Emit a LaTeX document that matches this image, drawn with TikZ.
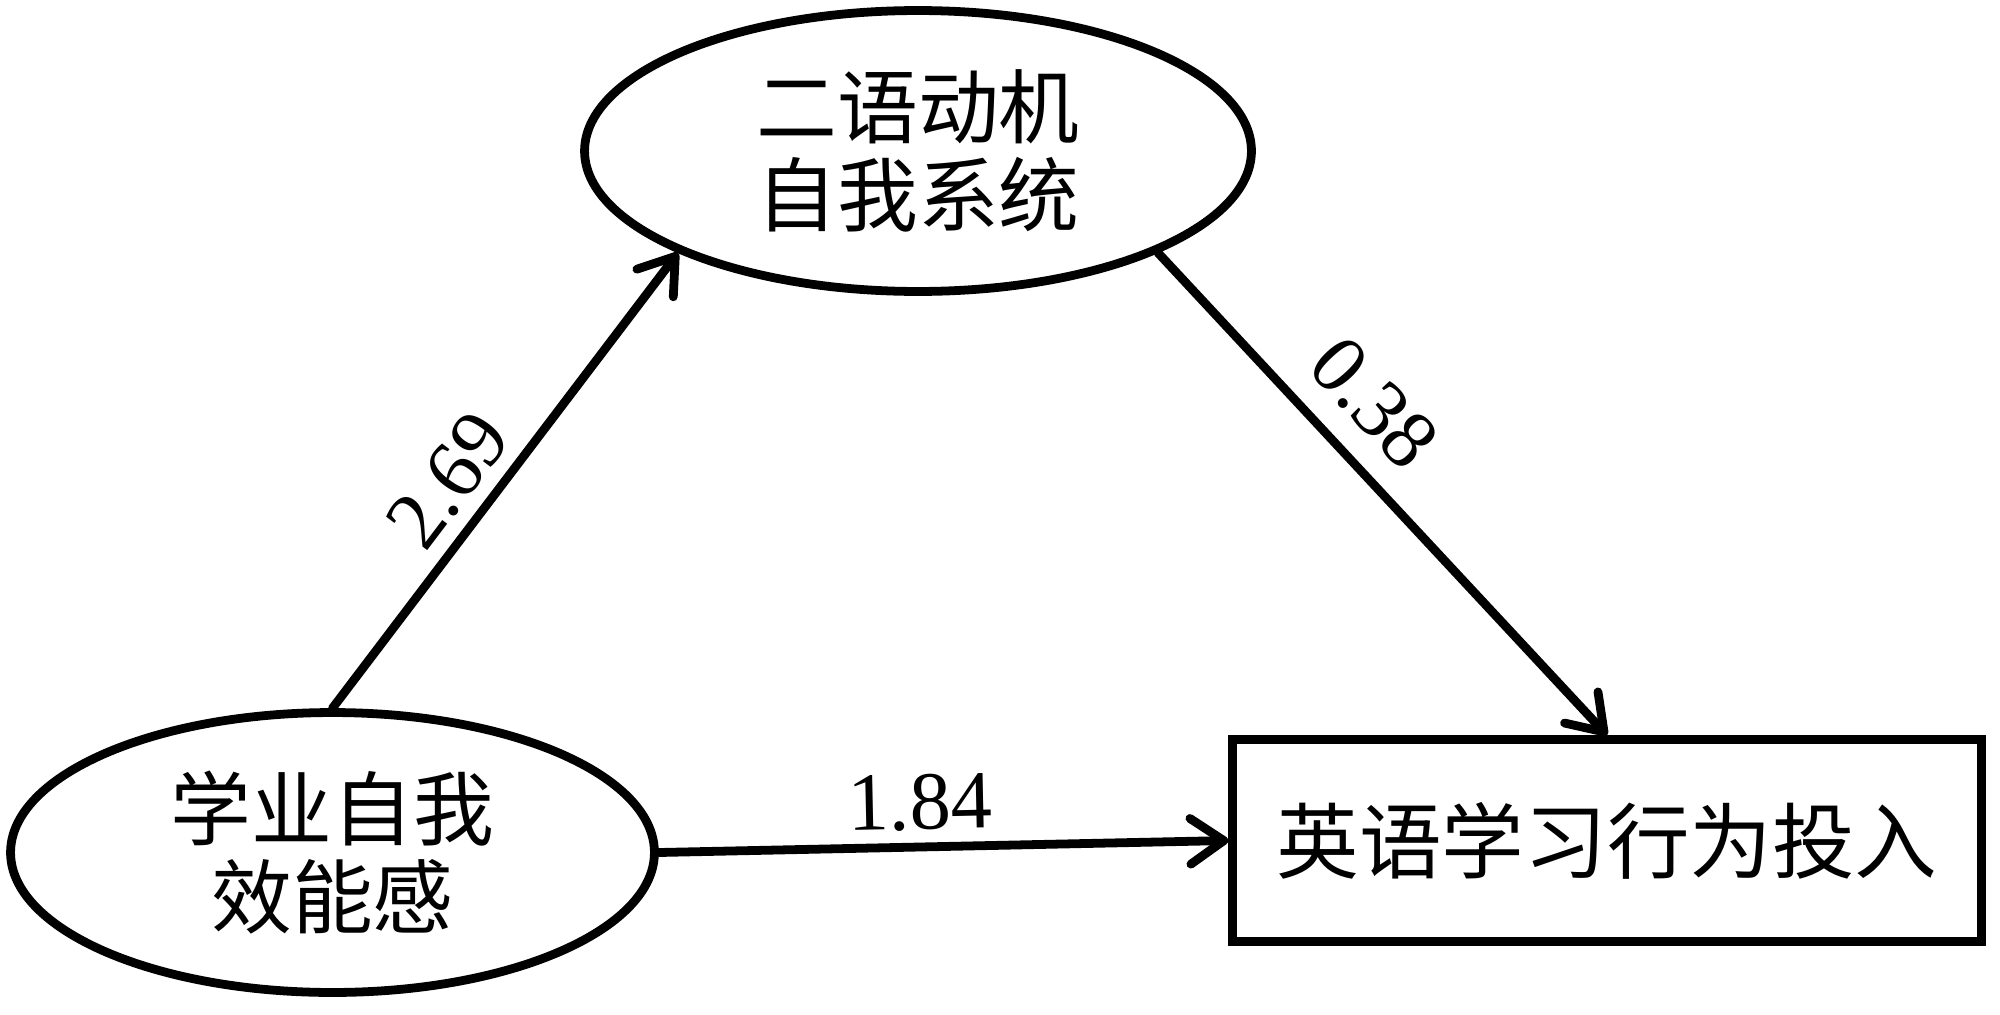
\documentclass[tikz,border=0pt]{standalone}
\usepackage{fontspec}
\newfontfamily\cjk{Noto Sans CJK SC}
\newfontfamily\numfont{Liberation Serif}
\usetikzlibrary{shapes.geometric,arrows.meta}
\begin{document}
\begin{tikzpicture}[x=0.02cm,y=-0.02cm,
  every node/.style={inner sep=0pt},
  latent/.style={ellipse,draw,line width=5pt,align=center,font=\cjk\fontsize{46}{50}\selectfont},
  observed/.style={rectangle,draw,line width=5pt,font=\cjk\fontsize{47}{50}\selectfont},
  path/.style={line width=5pt,line cap=round,-{Straight Barb[length=19pt,width=26pt,line width=5pt,line cap=round,round]}},
  coef/.style={font=\numfont\fontsize{47}{50}\selectfont,sloped,inner sep=3.33pt}]
\useasboundingbox (0,0) rectangle (2000,1014);
\node[latent,minimum width=13.34cm,minimum height=5.62cm] (B) at (918,151) {二语动机\\自我系统};
\node[latent,minimum width=12.88cm,minimum height=5.6cm] (A) at (332.5,852.5) {学业自我\\效能感};
\node[observed,minimum width=14.98cm,minimum height=4.04cm] (C) at (1607,840.5) {英语学习行为投入};
\draw[path] (A.north) -- node[coef,pos=0.44,above=4.3pt] (l1) {2.69} (B.203);
\draw[path] (B.-23) -- node[coef,pos=0.39,above=10pt] (l2) {0.38} (C.north);
\draw[path] (A.east) -- node[coef,pos=0.46,above=3.5pt] (l3) {1.84} (C.west);
\end{tikzpicture}
\end{document}
